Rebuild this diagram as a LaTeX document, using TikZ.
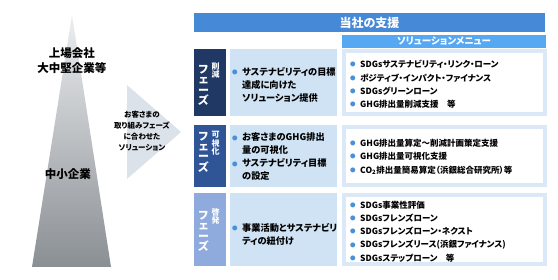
\documentclass[tikz,border=0pt]{standalone}
\usepackage{fontspec}
\newfontfamily\jp{Noto Sans CJK JP}[RawFeature=+palt]
\usetikzlibrary{positioning}

\definecolor{hdrblue}{HTML}{4689D6}
\definecolor{subblue}{HTML}{56A8F2}
\definecolor{midfill}{HTML}{CFE3F4}
\definecolor{rbord}{HTML}{DAE8F7}
\definecolor{phone}{HTML}{1F3864}
\definecolor{phtwo}{HTML}{2F5597}
\definecolor{phthree}{HTML}{8FAADC}
\definecolor{bul}{HTML}{4A90D9}
\definecolor{arrowgrey}{HTML}{DCE2EA}
\definecolor{tritop}{HTML}{ECEEF0}
\definecolor{tribot}{HTML}{8A8F94}

\begin{document}
\begin{tikzpicture}[x=1pt, y=-1pt, font=\jp\bfseries,
    box/.style={anchor=north west, inner sep=0pt, outer sep=0pt},
    phasebox/.style={box, minimum width=32, fill=#1},
    midbox/.style={box, minimum width=107, fill=midfill},
    menubox/.style={box, minimum width=201, fill=white, draw=rbord, line width=4pt},
    fzlabel/.style={align=center, inner sep=0pt, text=white, font=\jp\bfseries\fontsize{11}{10.4}\selectfont},
    phname/.style={anchor=north, align=center, inner sep=0pt, text=white, font=\jp\bfseries\fontsize{8}{8.7}\selectfont},
    midtxt/.style={anchor=west, align=left, inner sep=0pt, font=\jp\bfseries\fontsize{9.2}{13}\selectfont},
    menutxt/.style={anchor=west, align=left, inner sep=0pt, font=\jp\bfseries\fontsize{8.5}{13.3}\selectfont}]
  % \blt: small blue bullet in a 10pt box, \ind: the same indent without it
  \newcommand{\blt}{\makebox[10pt][l]{\raisebox{0.9pt}{\textcolor{bul}{\fontsize{5.5}{6}\selectfont ●}}}}
  \newcommand{\ind}{\hspace*{10pt}}
  \useasboundingbox (0,0) rectangle (558,280);
  % ---------------- pyramid ----------------
  \coordinate (apex) at (72,15);
  \coordinate (bl) at (32,267);
  \coordinate (br) at (111,267);
  \shade[top color=tritop, bottom color=tribot] (apex) -- (br) -- (bl) -- cycle;
  \node[align=center, inner sep=0pt, font=\jp\bfseries\fontsize{11.5}{15}\selectfont] (large) at (72,60.5) {上場会社\\大中堅企業等};
  \node[inner sep=0pt, font=\jp\bfseries\fontsize{11.5}{15}\selectfont] (small) at (68,174) {中小企業};
  % ---------------- arrow ----------------
  \coordinate (at) at (127,85);
  \coordinate (ab) at (127,179);
  \coordinate (tip) at (181,132);
  \fill[arrowgrey] (at) -- (tip) -- (ab) -- cycle;
  \node[align=center, inner sep=0pt, font=\jp\bfseries\fontsize{7.5}{11}\selectfont] (fit) at (142,131.5) {お客さまの\\取り組みフェーズ\\に合わせた\\ソリューション};
  % ---------------- headers ----------------
  \node[box, minimum width=351, minimum height=19, fill=hdrblue, text=white, font=\jp\bfseries\fontsize{12}{14}\selectfont] (hdr) at (194,13) {当社の支援};
  \node[box, minimum width=204, minimum height=13, fill=subblue, text=white, font=\jp\bfseries\fontsize{9.5}{11}\selectfont] (menu) at (342,35) {ソリューションメニュー};
  % ---------------- row 1: 削減フェーズ ----------------
  \node[phasebox=phone, minimum height=67] (ph1) at (194,49) {};
  \node[fzlabel] (fz1) at (203.5,85.5) {フ\\ェ\\ー\\ズ};
  \node[phname] (nm1) at (215.5,62) {削\\減};
  \node[midbox, minimum height=67] (mid1) at (230,49) {};
  \node[midtxt] (mt1) at (232,84.5) {\blt サステナビリティの目標\\\ind 達成に向けた\\\ind ソリューション提供};
  \node[menubox, minimum height=63] (mb1) at (344,51) {};
  \node[menutxt] (mn1) at (350,84.5) {\blt SDGsサステナビリティ・リンク・ローン\\\blt ポジティブ・インパクト・ファイナンス\\\blt SDGsグリーンローン\\\blt GHG排出量削減支援　等};
  % ---------------- row 2: 可視化フェーズ ----------------
  \node[phasebox=phtwo, minimum height=62] (ph2) at (194,125) {};
  \node[fzlabel] (fz2) at (203.5,152) {フ\\ェ\\ー\\ズ};
  \node[phname] (nm2) at (215.5,131) {可\\視\\化};
  \node[midbox, minimum height=62] (mid2) at (230,125) {};
  \node[midtxt] (mt2) at (232,157) {\blt お客さまのGHG排出\\\ind 量の可視化\\\blt サステナビリティ目標\\\ind の設定};
  \node[menubox, minimum height=58] (mb2) at (344,127) {};
  \node[menutxt] (mn2) at (350,157) {\blt GHG排出量算定〜削減計画策定支援\\\blt GHG排出量可視化支援\\\blt CO\textsubscript{2}排出量簡易算定（浜銀総合研究所）等};
  % ---------------- row 3: 啓発フェーズ ----------------
  \node[phasebox=phthree, minimum height=73] (ph3) at (194,193) {};
  \node[fzlabel] (fz3) at (203.5,231.5) {フ\\ェ\\ー\\ズ};
  \node[phname] (nm3) at (215.5,208) {啓\\発};
  \node[midbox, minimum height=73] (mid3) at (230,193) {};
  \node[midtxt] (mt3) at (232,234.5) {\blt 事業活動とサステナビリ\\\ind ティの紐付け};
  \node[menubox, minimum height=69] (mb3) at (344,195) {};
  \node[menutxt] (mn3) at (350,231.5) {\blt SDGs事業性評価\\\blt SDGsフレンズローン\\\blt SDGsフレンズローン・ネクスト\\\blt SDGsフレンズリース(浜銀ファイナンス)\\\blt SDGsステップローン　等};
\end{tikzpicture}
\end{document}
